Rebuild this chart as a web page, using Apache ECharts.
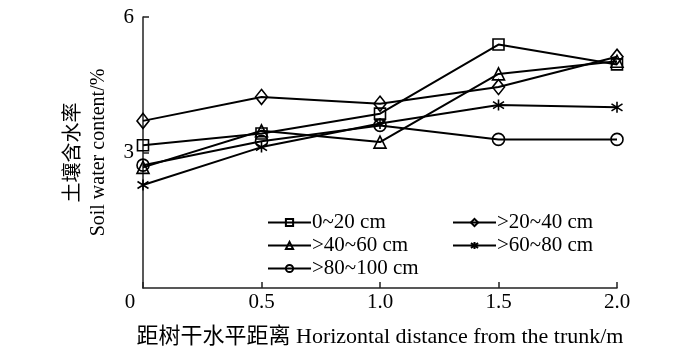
<!DOCTYPE html>
<html>
<head>
<meta charset="utf-8">
<script src="https://cdn.jsdelivr.net/npm/echarts@6/dist/echarts.min.js"></script>
<style>
  html, body { margin: 0; padding: 0; background: #fff; }
  #chart { width: 700px; height: 353px; }
</style>
</head>
<body>
<div id="chart"></div>
<script>
// distance from trunk (m)
const distances = [0, 0.5, 1.0, 1.5, 2.0]

// soil water content (%) per depth layer
const depth0to20 = [3.16, 3.42, 3.86, 5.39, 4.95]
const depth20to40 = [3.70, 4.23, 4.08, 4.45, 5.12]
const depth40to60 = [2.67, 3.48, 3.23, 4.74, 5.02]
const depth60to80 = [2.28, 3.12, 3.64, 4.05, 4.00]
const depth80to100 = [2.72, 3.25, 3.60, 3.29, 3.29]

const seriesNames = ['0~20 cm', '>20~40 cm', '>40~60 cm', '>60~80 cm', '>80~100 cm']

const FONT = '"Liberation Serif", "Noto Sans CJK SC", serif'
const STAR = 'path://M5,0L5,10M1.2,1.8L8.8,8.2M8.8,1.8L1.2,8.2'

function pairs(values) {
  return distances.map((d, i) => [d, values[i]])
}

function makeSeries(name, values, symbol, size) {
  return {
    name: name,
    type: 'line',
    data: pairs(values),
    symbol: symbol,
    symbolSize: size,
    lineStyle: { color: '#000', width: 2 },
    itemStyle: { color: 'rgba(0,0,0,0)', borderColor: '#000', borderWidth: 1.6 },
    emphasis: { disabled: true },
    z: 2
  }
}

const chart = echarts.init(document.getElementById('chart'))

const legendCommon = {
  orient: 'vertical',
  itemWidth: 43,
  itemHeight: 9,
  itemGap: 2,
  textStyle: { fontFamily: FONT, fontSize: 21, color: '#000', padding: [0, 0, 0, -4] },
  selectedMode: false
}

chart.setOption({
  animation: false,
  grid: { left: 143, right: 83, top: 17, bottom: 60 },
  legend: [
    Object.assign({ left: 262, top: 207, data: [seriesNames[0], seriesNames[2], seriesNames[4]] }, legendCommon),
    Object.assign({ left: 447, top: 207, data: [seriesNames[1], seriesNames[3]] }, legendCommon)
  ],
  xAxis: {
    type: 'value',
    min: 0,
    max: 2,
    interval: 0.5,
    name: '距树干水平距离 Horizontal distance from the trunk/m',
    nameLocation: 'middle',
    nameGap: 38,
    nameTextStyle: { fontFamily: FONT, fontSize: 22, color: '#000' },
    axisLine: { lineStyle: { color: '#222', width: 1.5 } },
    axisTick: { inside: true, length: 6, lineStyle: { color: '#222', width: 1.5 } },
    axisLabel: {
      fontFamily: FONT, fontSize: 21, color: '#000', margin: 4,
      formatter: v => v === 0 ? '{z|0}' : v.toFixed(1),
      rich: { z: { fontFamily: FONT, fontSize: 21, color: '#000', padding: [0, 26, 0, 0] } }
    },
    splitLine: { show: false }
  },
  yAxis: {
    type: 'value',
    min: 0,
    max: 6,
    interval: 3,
    name: '土壤含水率\nSoil water content/%',
    nameLocation: 'middle',
    nameGap: 32,
    nameTextStyle: { fontFamily: FONT, fontSize: 20, color: '#000', lineHeight: 25 },
    axisLine: { show: true, lineStyle: { color: '#222', width: 1.5 } },
    axisTick: { show: true, inside: true, length: 6, lineStyle: { color: '#222', width: 1.5 } },
    axisLabel: { fontFamily: FONT, fontSize: 21, color: '#000', margin: 9, showMinLabel: false },
    splitLine: { show: false }
  },
  series: [
    makeSeries(seriesNames[0], depth0to20, 'rect', 11),
    makeSeries(seriesNames[1], depth20to40, 'diamond', [12, 15]),
    makeSeries(seriesNames[2], depth40to60, 'triangle', [12, 12]),
    makeSeries(seriesNames[3], depth60to80, STAR, 11),
    makeSeries(seriesNames[4], depth80to100, 'circle', 12)
  ]
})
</script>
</body>
</html>
